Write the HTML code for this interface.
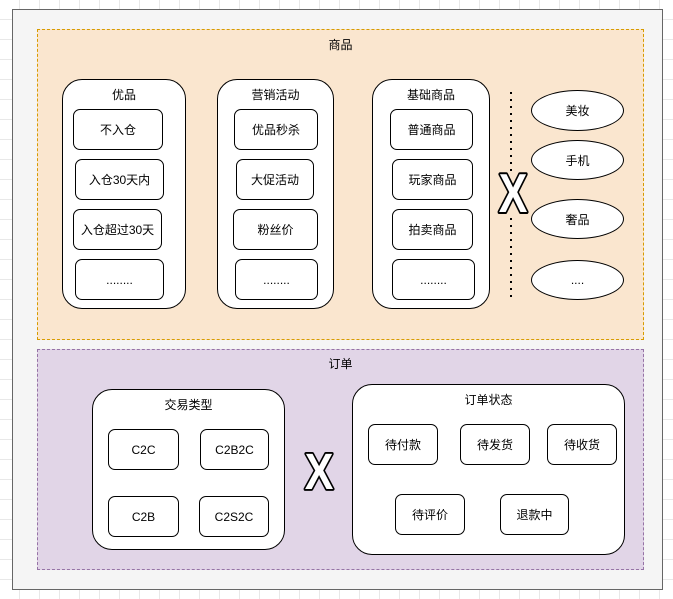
<!DOCTYPE html>
<html><head><meta charset="utf-8"><style>
html,body{margin:0;padding:0;}
body{width:673px;height:599px;position:relative;overflow:hidden;font-family:"Liberation Sans","Noto Sans CJK SC",sans-serif;font-size:12px;color:#000;
background-color:#fff;background-image:linear-gradient(#e8e8e8 1px,transparent 1px),linear-gradient(90deg,#e8e8e8 1px,transparent 1px);background-size:20px 20px;background-position:-1px -1px;}
.a{position:absolute;box-sizing:border-box;}
.b{position:absolute;box-sizing:border-box;background:#fff;border:1px solid #000;border-radius:7px;display:flex;align-items:center;justify-content:center;font-size:12px;}
.c{position:absolute;box-sizing:border-box;background:#fff;border:1px solid #000;border-radius:20px;}
.t{position:absolute;left:0;right:0;text-align:center;font-size:12px;}
.e{position:absolute;box-sizing:border-box;background:#fff;border:1px solid #000;border-radius:50%;display:flex;align-items:center;justify-content:center;}
</style></head><body>
<div class="a" style="left:12px;top:9px;width:651px;height:581px;background:#f5f5f5;border:1px solid #666;"></div>
<div class="a" style="left:37px;top:29px;width:607px;height:311px;background:#fae6cf;border:1px dashed #d79b00;"></div>
<div class="a" style="left:37px;top:36px;width:607px;text-align:center;">商品</div>
<div class="a" style="left:37px;top:349px;width:607px;height:221px;background:#e1d5e7;border:1px dashed #9673a6;"></div>
<div class="a" style="left:37px;top:355px;width:607px;text-align:center;">订单</div>

<div class="c" style="left:62px;top:79px;width:124px;height:230px;"><div class="t" style="top:6px;">优品</div></div>
<div class="b" style="left:73px;top:109px;width:90px;height:41px;">不入仓</div>
<div class="b" style="left:75px;top:159px;width:89px;height:41px;">入仓30天内</div>
<div class="b" style="left:73px;top:209px;width:89px;height:41px;">入仓超过30天</div>
<div class="b" style="left:75px;top:259px;width:89px;height:41px;">........</div>

<div class="c" style="left:217px;top:79px;width:117px;height:230px;"><div class="t" style="top:6px;">营销活动</div></div>
<div class="b" style="left:234px;top:109px;width:84px;height:41px;">优品秒杀</div>
<div class="b" style="left:236px;top:159px;width:78px;height:41px;">大促活动</div>
<div class="b" style="left:233px;top:209px;width:85px;height:41px;">粉丝价</div>
<div class="b" style="left:235px;top:259px;width:83px;height:41px;">........</div>

<div class="c" style="left:372px;top:79px;width:118px;height:230px;"><div class="t" style="top:6px;">基础商品</div></div>
<div class="b" style="left:390px;top:109px;width:83px;height:41px;">普通商品</div>
<div class="b" style="left:392px;top:159px;width:81px;height:41px;">玩家商品</div>
<div class="b" style="left:392px;top:209px;width:81px;height:41px;">拍卖商品</div>
<div class="b" style="left:392px;top:259px;width:83px;height:41px;">........</div>

<div class="a" style="left:510px;top:92px;width:2px;height:207px;background:repeating-linear-gradient(to bottom,#000 0 2px,transparent 2px 7px);"></div>
<div class="e" style="left:531px;top:90px;width:93px;height:41px;">美妆</div>
<div class="e" style="left:531px;top:140px;width:93px;height:40px;">手机</div>
<div class="e" style="left:531px;top:199px;width:93px;height:40px;">奢品</div>
<div class="e" style="left:531px;top:260px;width:93px;height:40px;">....</div>

<div class="c" style="left:92px;top:389px;width:193px;height:161px;"><div class="t" style="top:6px;">交易类型</div></div>
<div class="b" style="left:108px;top:429px;width:71px;height:41px;">C2C</div>
<div class="b" style="left:200px;top:429px;width:69px;height:41px;">C2B2C</div>
<div class="b" style="left:108px;top:496px;width:71px;height:41px;">C2B</div>
<div class="b" style="left:199px;top:496px;width:70px;height:41px;">C2S2C</div>

<div class="c" style="left:352px;top:384px;width:273px;height:171px;"><div class="t" style="top:6px;">订单状态</div></div>
<div class="b" style="left:368px;top:424px;width:70px;height:41px;">待付款</div>
<div class="b" style="left:460px;top:424px;width:70px;height:41px;">待发货</div>
<div class="b" style="left:547px;top:424px;width:70px;height:41px;">待收货</div>
<div class="b" style="left:395px;top:494px;width:70px;height:41px;">待评价</div>
<div class="b" style="left:500px;top:494px;width:69px;height:41px;">退款中</div>

<svg class="a" style="left:0;top:0;" width="673" height="599">
<rect x="501" y="172" width="24" height="42" fill="#fae6cf"/>
<g font-family="Liberation Sans, sans-serif" font-weight="bold" font-size="55" text-anchor="middle">
<text transform="translate(513,212) scale(0.78,1)" fill="#000" stroke="#000" stroke-width="4" stroke-linejoin="round">X</text>
<text transform="translate(513,212) scale(0.78,1)" fill="#fff">X</text>
<text transform="translate(319,489) scale(0.78,0.92)" fill="#000" stroke="#000" stroke-width="4" stroke-linejoin="round">X</text>
<text transform="translate(319,489) scale(0.78,0.92)" fill="#fff">X</text>
</g>
</svg>
</body></html>
